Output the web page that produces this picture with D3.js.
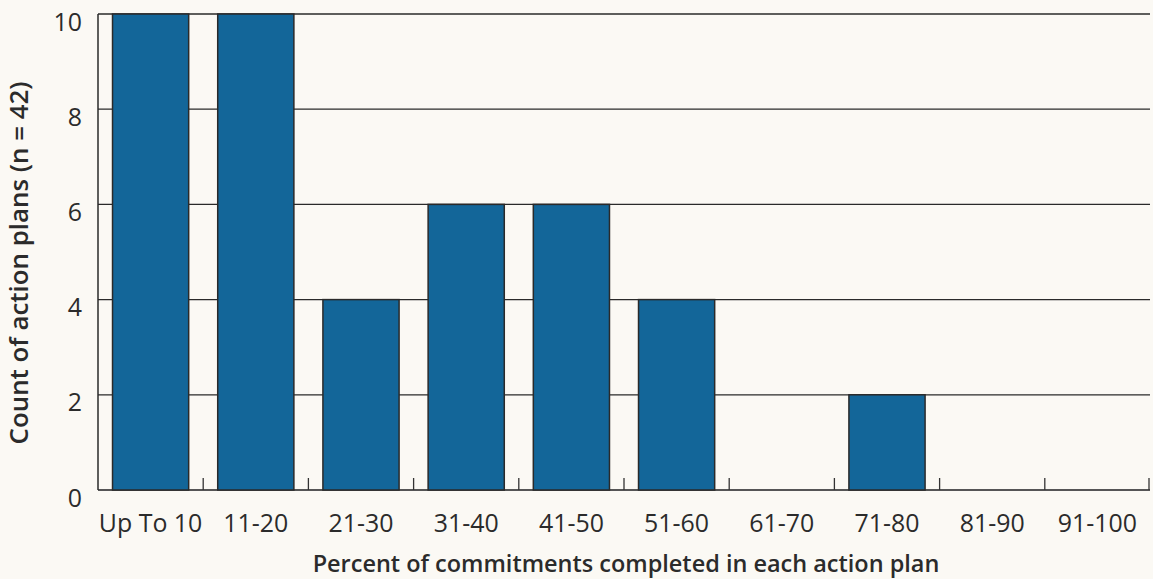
<!DOCTYPE html>
<html><head><meta charset="utf-8">
<script src="https://cdn.jsdelivr.net/npm/d3@7"></script>
<style>
body{margin:0;background:#fbf9f4;}
svg{display:block;}
text{font-family:"Open Sans", Lato, sans-serif;fill:#2b2b2b;}
</style></head><body>
<svg id="c" width="1153" height="579"></svg>
<script>
const categories = ["Up To 10","11-20","21-30","31-40","41-50","51-60","61-70","71-80","81-90","91-100"];
const counts = [10,10,4,6,6,4,0,2,0,0];
const yTicks = [0,2,4,6,8,10];
const xTitle = "Percent of commitments completed in each action plan";
const yTitle = "Count of action plans (n = 42)";

const svg = d3.select("#c");
const W = 1153, H = 579;
const m = {l:98, r:3, t:14, b:89};
const xb = d3.scaleBand().domain(categories).range([m.l, W - m.r]);
const x = d3.scaleBand().domain(categories).range([m.l, W - m.r]).paddingInner(0.276).paddingOuter(0.138);
const y = d3.scaleLinear().domain([0,10]).range([H - m.b, m.t]);

function fit(sel, target) {
  const n = sel.node();
  const w = n.getComputedTextLength();
  const fs = parseFloat(sel.attr("font-size"));
  const nf = fs * target / w;
  sel.attr("font-size", nf);
  return nf;
}

// gridlines
svg.append("g").selectAll("line").data(yTicks.filter(d=>d>0)).join("line")
  .attr("x1", m.l).attr("x2", W - m.r)
  .attr("y1", d=>y(d)).attr("y2", d=>y(d))
  .attr("stroke", "#2a2a2a").attr("stroke-width", 1.3);

// baseline
svg.append("line").attr("x1", m.l).attr("x2", W - m.r).attr("y1", y(0)).attr("y2", y(0))
  .attr("stroke", "#555").attr("stroke-width", 2);

// category ticks (upward)
const tickPos = categories.slice(1).map(d=>xb(d)).concat([W - m.r - 1]);
svg.append("g").selectAll("line").data(tickPos).join("line")
  .attr("x1", d=>d).attr("x2", d=>d)
  .attr("y1", y(0)).attr("y2", y(0) - 12)
  .attr("stroke", "#333").attr("stroke-width", 1.3);

// bars
svg.append("g").selectAll("rect").data(counts).join("rect")
  .attr("x", (d,i)=>x(categories[i]))
  .attr("width", x.bandwidth())
  .attr("y", d=>y(d))
  .attr("height", d=>y(0)-y(d))
  .attr("fill", "#136699")
  .attr("stroke", "#2a2a2a").attr("stroke-width", 1.5);

// left axis line
svg.append("line").attr("x1", m.l).attr("x2", m.l).attr("y1", m.t).attr("y2", y(0))
  .attr("stroke", "#2a2a2a").attr("stroke-width", 1.5);

// x tick labels
const xl = svg.append("g").selectAll("text").data(categories).join("text")
  .attr("x", d=>xb(d) + xb.bandwidth()/2).attr("y", 532)
  .attr("text-anchor", "middle")
  .attr("font-size", 22).text(d=>d);
const tfs = fit(xl.filter(d=>d==="21-30"), 65);
xl.attr("font-size", tfs);

// y tick labels
svg.append("g").selectAll("text").data(yTicks).join("text")
  .attr("x", 82).attr("y", d=>y(d) + 16.5)
  .attr("text-anchor", "end")
  .attr("font-size", tfs).text(d=>d);

// axis titles
const xt = svg.append("text").attr("x", 626).attr("y", 572)
  .attr("text-anchor","middle")
  .attr("font-size", 22).attr("font-weight", 600).text(xTitle);
fit(xt, 627);
const yt = svg.append("text").attr("transform","translate(28,263) rotate(-90)")
  .attr("text-anchor","middle")
  .attr("font-size", 22).attr("font-weight", 600).text(yTitle);
fit(yt, 363);
</script></body></html>
